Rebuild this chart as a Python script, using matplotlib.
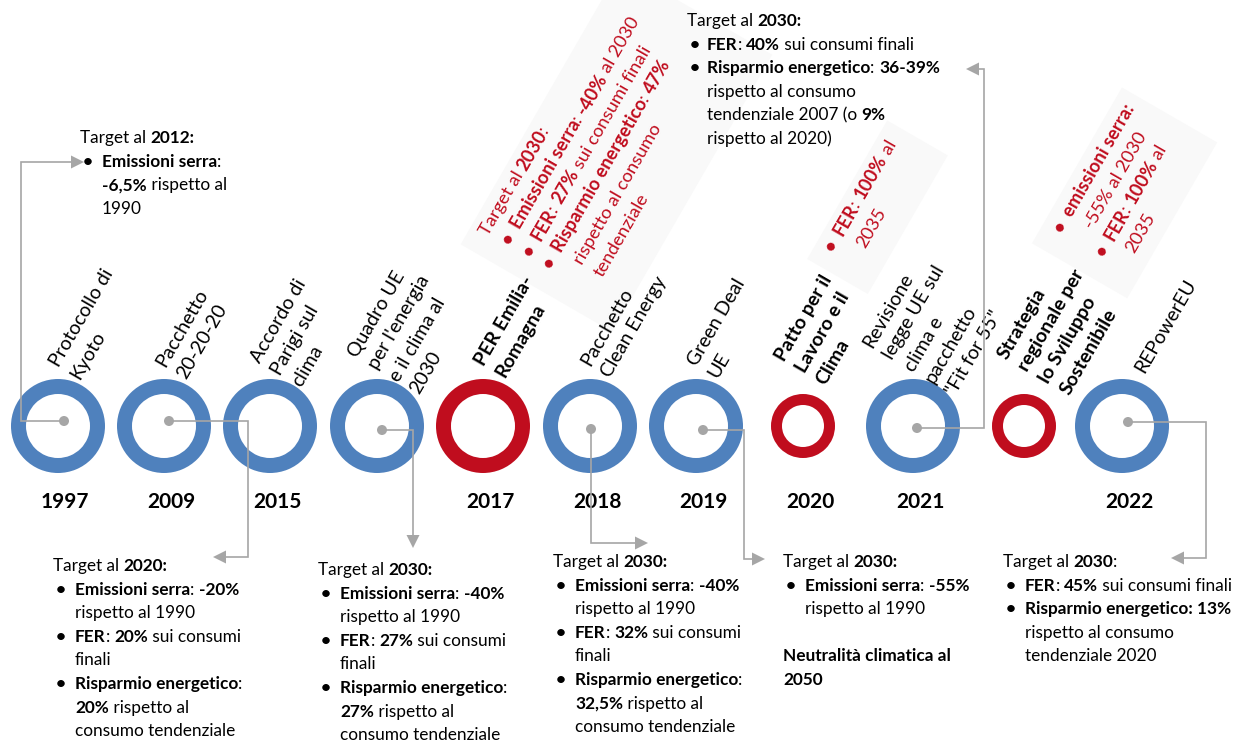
import numpy as np
import matplotlib
matplotlib.use("Agg")
import matplotlib.pyplot as plt
from matplotlib.patches import Wedge, Circle, Polygon
from matplotlib.font_manager import FontProperties

FONT = "Lato"
BLU = "#4F81BD"
ROSSO = "#C00D1E"
GRIGIO = "#A6A6A6"
SFONDO_BOX = "#F9F9F9"
FS = 12.4       # testi dei target
FS_EV = 14      # etichette ruotate degli eventi
FS_RED = 13.2   # testi rossi ruotati
LEAD = 23.6

# --- dati ---
anni = ["1997", "2009", "2015", "", "2017", "2018", "2019", "2020", "2021", "", "2022"]
eventi = [
    "Protocollo di\nKyoto",
    "Pacchetto\n20-20-20",
    "Accordo di\nParigi sul\nclima",
    "Quadro UE\nper l'energia\ne il clima al\n2030",
    "PER Emilia-\nRomagna",
    "Pacchetto\nClean Energy",
    "Green Deal\nUE",
    "Patto per il\nLavoro e il\nClima",
    "Revisione\nlegge UE sul\nclima e\npacchetto\n\"Fit for 55\"",
    "Strategia\nregionale per\nlo Sviluppo\nSostenibile",
    "REPowerEU",
]
regionale = [False, False, False, False, True, False, False, True, False, True, False]

target_kyoto = ["Target al **2012:**", "• **Emissioni serra**:", "  **-6,5%** rispetto al", "  1990"]
target_2020 = ["Target al **2020:**", "• **Emissioni serra**: **-20%**", "  rispetto al 1990",
               "• **FER**: **20%** sui consumi", "  finali", "• **Risparmio energetico**:",
               "  **20%** rispetto al", "  consumo tendenziale"]
target_quadro = ["Target al **2030:**", "• **Emissioni serra**: **-40%**", "  rispetto al 1990",
                 "• **FER**: **27%** sui consumi", "  finali", "• **Risparmio energetico**:",
                 "  **27%** rispetto al", "  consumo tendenziale"]
target_clean = ["Target al **2030:**", "• **Emissioni serra**: **-40%**", "  rispetto al 1990",
                "• **FER**: **32%** sui consumi", "  finali", "• **Risparmio energetico**:",
                "  **32,5%** rispetto al", "  consumo tendenziale"]
target_green = ["Target al **2030:**", "• **Emissioni serra**: **-55%**", "  rispetto al 1990", "",
                "**Neutralità climatica al**", "**2050**"]
target_fit55 = ["Target al **2030:**", "• **FER**: **40%** sui consumi finali",
                "• **Risparmio energetico**: **36-39%**", "  rispetto al consumo",
                "  tendenziale 2007 (o **9%**", "  rispetto al 2020)"]
target_repower = ["Target al **2030**:", "• **FER**: **45%** sui consumi finali",
                  "• **Risparmio energetico: 13%**", "  rispetto al consumo", "  tendenziale 2020"]
per_er = ["Target al **2030**:", "• **Emissioni serra**: **-40%** al 2030",
          "• **FER**: **27%** sui consumi finali", "• **Risparmio energetico**: **47%**",
          "  rispetto al consumo", "  tendenziale"]
patto = ["• **FER**: **100%** al", "  2035"]
strategia = ["• **emissioni serra:**", "  -55% al 2030", "• **FER**: **100%** al", "  2035"]

# --- layout ---
cx = [58, 164, 270, 377, 483, 590, 696, 803, 913, 1024, 1122]
CY = 426
piccolo = [False] * 7 + [True, False, True, False]
etichetta_xy = [(59, 368), (165, 368), (260, 364), (357, 359), (484, 367), (590, 367),
                (697, 367), (784, 362), (872, 349), (1007, 360), (1144, 374)]
connettori = {
    0: [(64, 421), (21, 421), (21, 162), (84, 162)],
    1: [(169, 421), (248, 421), (248, 557), (213, 557)],
    3: [(382, 430), (413, 430), (413, 548)],
    5: [(591, 429), (591, 543), (648, 543)],
    6: [(703, 430), (744, 430), (744, 559), (765, 559)],
    8: [(917, 428), (984, 428), (984, 69), (966, 69)],
    10: [(1128, 422), (1206, 422), (1206, 558), (1171, 558)],
}

fig = plt.figure(figsize=(12.37, 7.40), dpi=100)
ax = fig.add_axes([0, 0, 1, 1])
ax.set_xlim(0, 1237)
ax.set_ylim(740, 0)
ax.axis("off")
rend = fig.canvas.get_renderer()


def larghezza(s, bold, size):
    fp = FontProperties(family=FONT, weight="bold" if bold else "normal", size=size)
    w = rend.get_text_width_height_descent("|" + s + "|", fp, ismath=False)[0]
    w0 = rend.get_text_width_height_descent("||", fp, ismath=False)[0]
    return w - w0


def riga(x, y, testo, rot, color, tutto_bold, size):
    th = np.deg2rad(rot)
    ux, uy = np.cos(th), -np.sin(th)
    off = 0
    for k, pezzo in enumerate(testo.split("**")):
        if not pezzo:
            continue
        bold = tutto_bold or k % 2 == 1
        ax.text(x + off * ux, y + off * uy, pezzo, fontsize=size, family=FONT,
                fontweight="bold" if bold else "normal", color=color, rotation=rot,
                rotation_mode="anchor", ha="left", va="baseline")
        off += larghezza(pezzo, bold, size)


def blocco(x, y, righe, rot=0, color="black", tutto_bold=False, lead=LEAD, ind=22, size=FS):
    th = np.deg2rad(rot)
    u = np.array([np.cos(th), -np.sin(th)])
    v = np.array([np.sin(th), np.cos(th)])
    p0 = np.array([x, y], float)
    for i, r in enumerate(righe):
        p = p0 + i * lead * v
        q = p
        if r.startswith("• "):
            b = p + 3 * u
            ax.text(b[0], b[1], "•", fontsize=size, family=FONT, fontweight="bold", color=color,
                    rotation=rot, rotation_mode="anchor", ha="left", va="baseline")
            r, q = r[2:], p + ind * u
        elif r.startswith("  "):
            r, q = r[2:], p + ind * u
        if r:
            riga(q[0], q[1], r, rot, color, tutto_bold, size)


def box_ruotato(x, y, a0, a1, b0, b1, rot=60):
    th = np.deg2rad(rot)
    u = np.array([np.cos(th), -np.sin(th)])
    v = np.array([np.sin(th), np.cos(th)])
    p0 = np.array([x, y], float)
    pts = [p0 + a * u + b * v for a, b in [(a0, b0), (a1, b0), (a1, b1), (a0, b1)]]
    ax.add_patch(Polygon(pts, closed=True, color=SFONDO_BOX, lw=0, zorder=0))


def connettore(punti):
    pts = np.array(punti, float)
    a, b = pts[-2], pts[-1]
    d = (b - a) / np.linalg.norm(b - a)
    base = b - 13 * d
    n = np.array([-d[1], d[0]])
    xs = list(pts[:-1, 0]) + [base[0]]
    ys = list(pts[:-1, 1]) + [base[1]]
    ax.plot(xs, ys, color=GRIGIO, lw=1.2, zorder=3, solid_joinstyle="miter")
    ax.add_patch(Polygon([b, base + 6.5 * n, base - 6.5 * n], closed=True, color=GRIGIO, lw=0, zorder=3))
    ax.add_patch(Circle(pts[0], 5, color=GRIGIO, lw=0, zorder=4))


# box grigi dietro ai testi regionali
box_ruotato(488, 237, -20, 300, -20, 155)
box_ruotato(832, 256, -15, 145, -20, 50)
box_ruotato(1061, 237, -20, 160, -22, 88)

# anelli
for i, ev in enumerate(eventi):
    col = ROSSO if regionale[i] else BLU
    r, w = (32, 11) if piccolo[i] else (47, 15)
    ax.add_patch(Wedge((cx[i], CY), r, 0, 360, width=w, color=col, lw=0, zorder=2))
    if anni[i]:
        ax.text(cx[i] + 7, 502, anni[i], fontsize=15, family=FONT, fontweight="bold",
                ha="center", va="center")
    ex, ey = etichetta_xy[i]
    blocco(ex, ey, ev.split("\n"), rot=60, tutto_bold=regionale[i], lead=24, size=FS_EV)

for i, pts in connettori.items():
    connettore(pts)

# testi dei target
blocco(80, 143, target_kyoto)
blocco(687, 26, target_fit55, ind=20)
blocco(53, 571, target_2020)
blocco(318, 575, target_quadro)
blocco(553, 567, target_clean)
blocco(783, 567, target_green)
blocco(1003, 567, target_repower)
blocco(488, 237, per_er, rot=60, color=ROSSO, lead=24, size=FS_RED)
blocco(832, 256, patto, rot=60, color=ROSSO, lead=25, size=FS_RED)
blocco(1061, 237, strategia, rot=60, color=ROSSO, lead=24, size=FS_RED)

fig.savefig("out.png", dpi=100)
